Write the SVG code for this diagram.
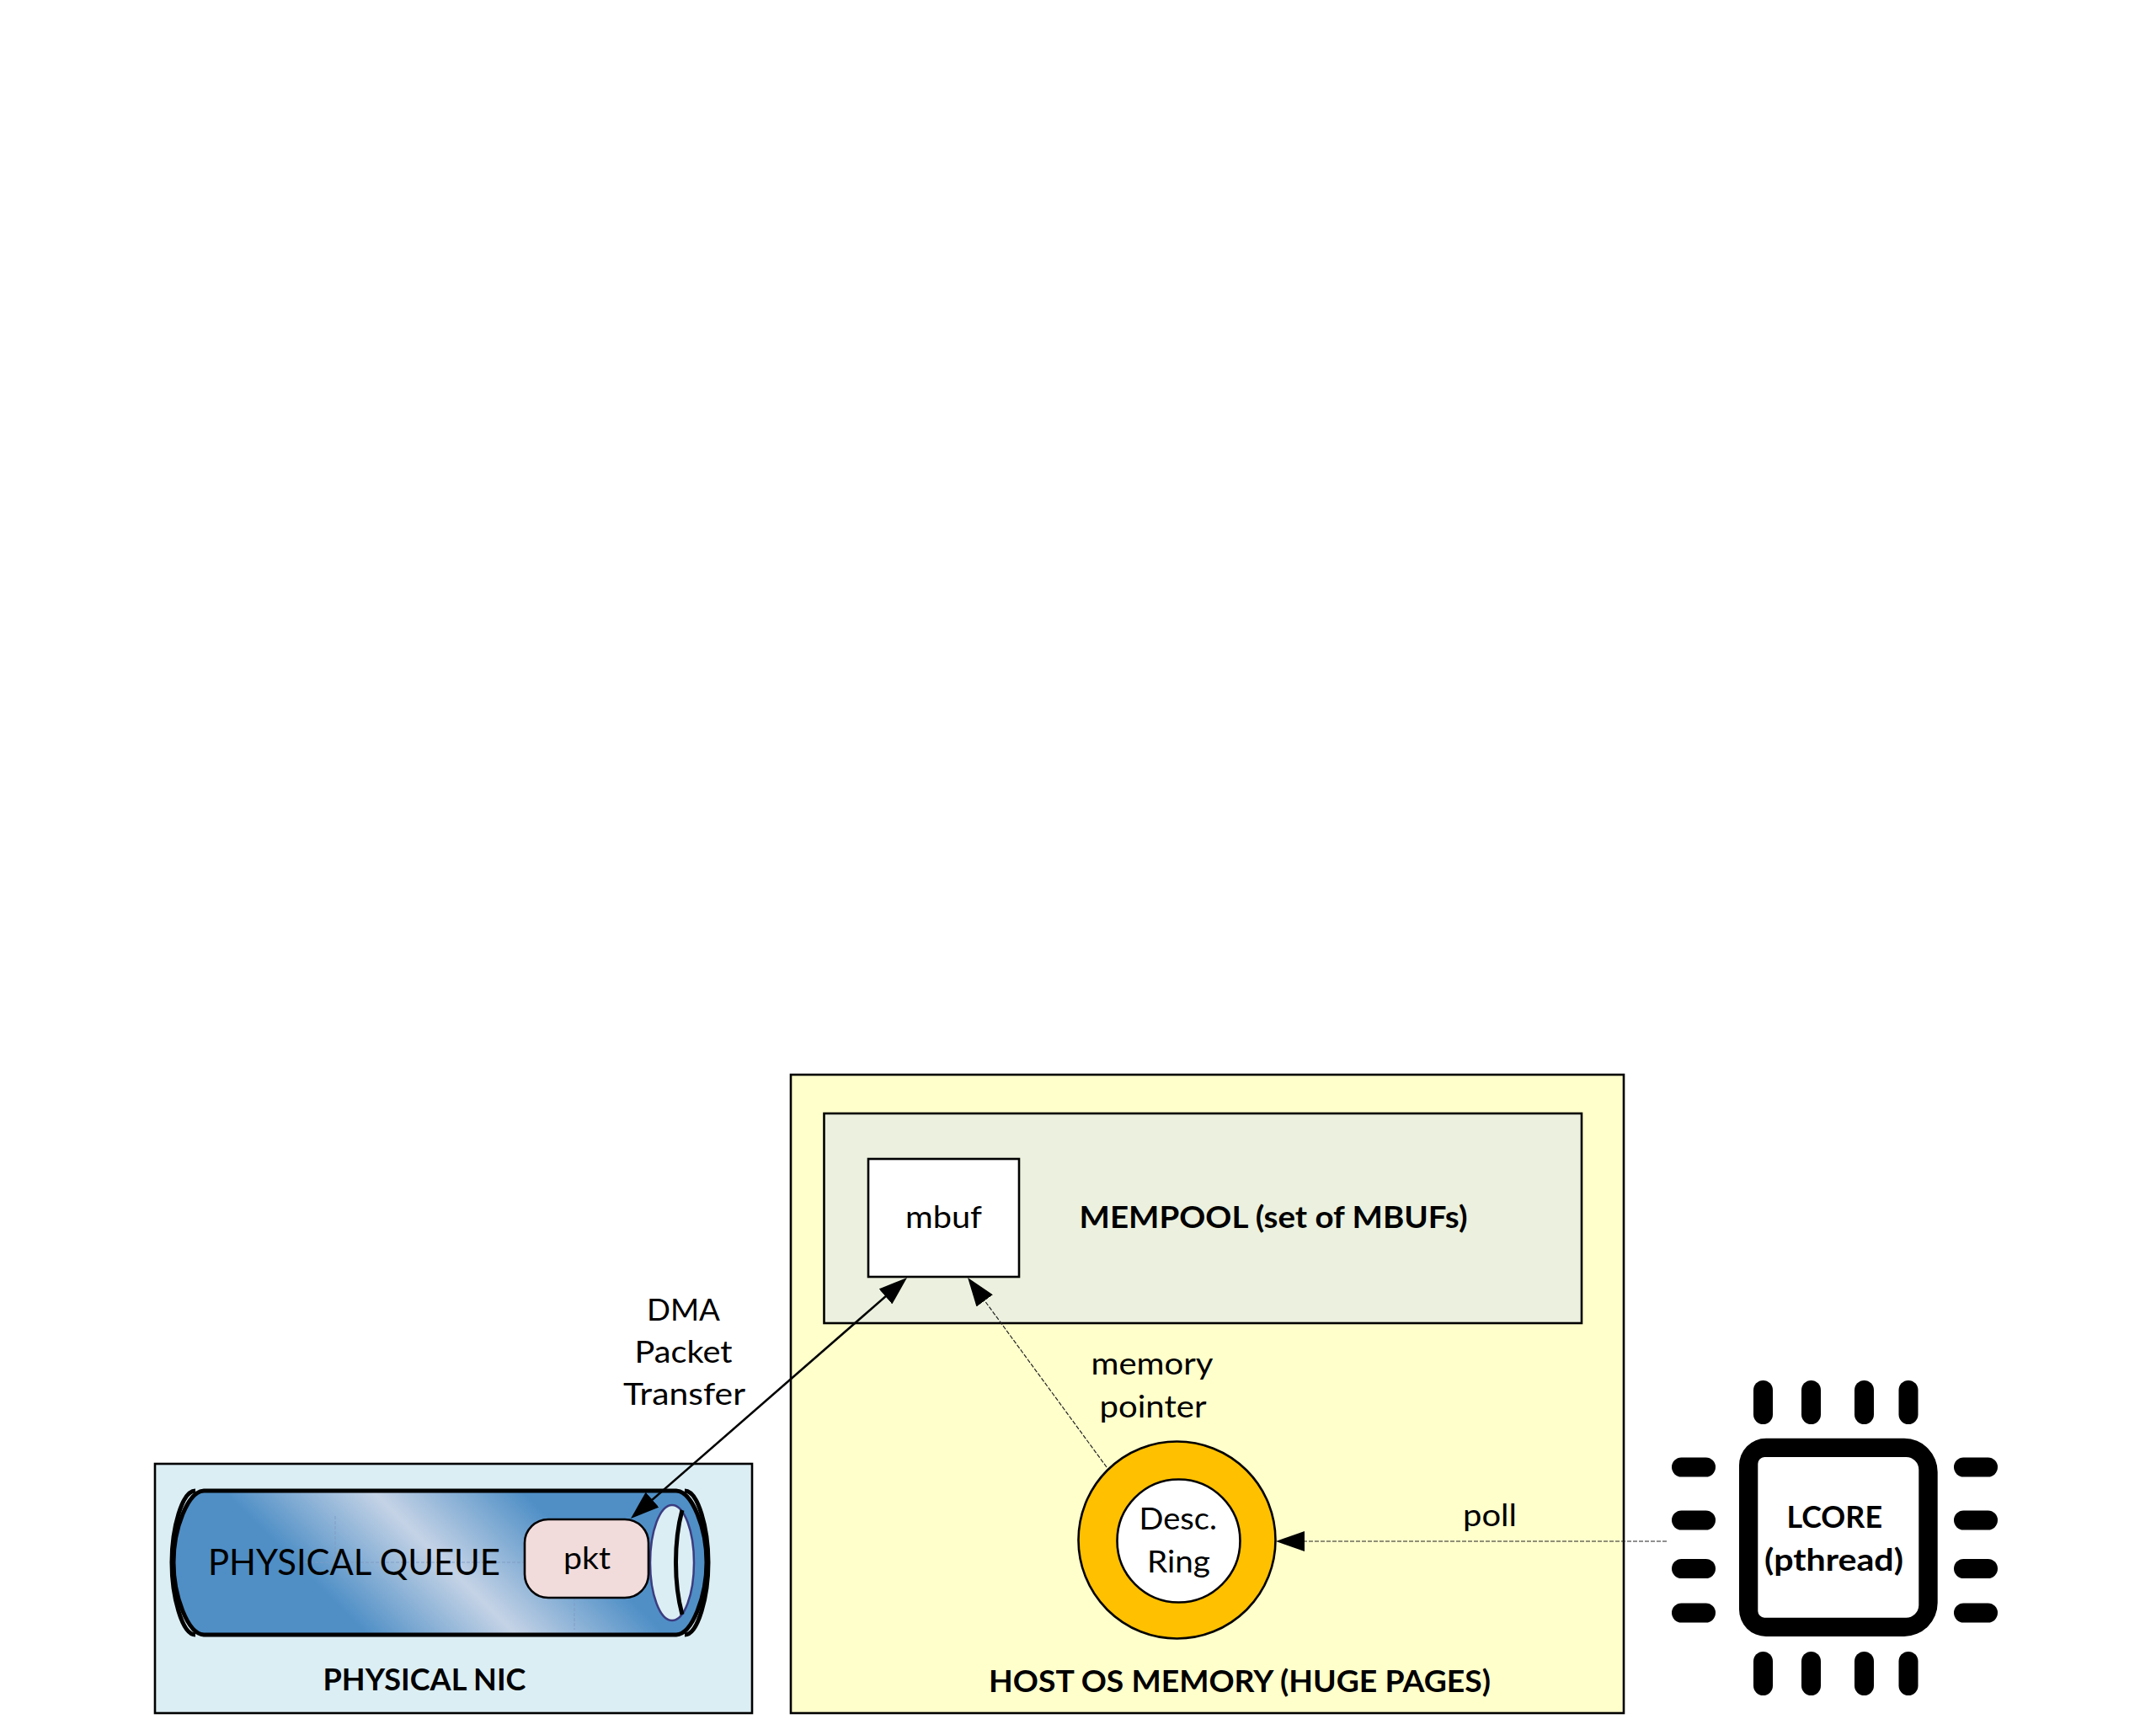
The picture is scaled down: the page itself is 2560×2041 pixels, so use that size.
<svg xmlns="http://www.w3.org/2000/svg" width="2560" height="2041" viewBox="0 0 2560 2041">
<style>
text{font-family:"Lato","Open Sans","Liberation Sans",sans-serif;fill:#000;text-anchor:start}
.r{font-size:37px}
.b{font-size:37px;font-weight:700}
.box{stroke:#000;stroke-width:2.6}
.tube{fill:none;stroke:#000;stroke-width:5}
.faint{fill:none;stroke:#7f9cc4;stroke-width:2;stroke-dasharray:4 2;opacity:.45}
.solid{fill:none;stroke:#000;stroke-width:2.5;marker-start:url(#head);marker-end:url(#head)}
.dash{fill:none;stroke:#222;stroke-width:1.2;stroke-dasharray:5 2;marker-end:url(#head)}
</style>
<defs>
<marker id="head" markerUnits="userSpaceOnUse" markerWidth="34" markerHeight="24" refX="24" refY="12" orient="auto-start-reverse"><path d="M0,0L34,12L0,24Z" fill="#000"/></marker>
<linearGradient id="tubeFill" gradientUnits="userSpaceOnUse" x1="267" y1="1772" x2="444.5" y2="1594.5"><stop offset="0" stop-color="#4f8fc6"/><stop offset=".5" stop-color="#c5d3e6"/><stop offset="1" stop-color="#4f8fc6"/></linearGradient>
</defs>
<rect width="2560" height="2041" fill="#fff"/>
<g id="nic">
<rect class="box" x="184" y="1738" width="709" height="296" fill="#dbeef4"/>
<text class="b" x="383.500" y="2007" textLength="241" lengthAdjust="spacingAndGlyphs">PHYSICAL NIC</text>
</g>
<g id="queue">
<path class="tube" d="M232 1770C216 1770 204 1815 204 1855C204 1895 216 1941 232 1941M813 1770C829 1770 841 1815 841 1855C841 1895 829 1941 813 1941"/>
<path d="M242 1770L803 1770C822 1771 839 1815 839 1855C839 1895 822 1940 803 1941L242 1941C223 1940 206 1895 206 1855C206 1815 223 1771 242 1770Z" fill="url(#tubeFill)" stroke="#000" stroke-width="5"/>
<path class="faint" d="M398 1800V1855M362 1855H623M682 1897V1935"/>
<text x="247" y="1869.500" font-size="43" textLength="347" lengthAdjust="spacingAndGlyphs">PHYSICAL QUEUE</text>
<ellipse cx="798" cy="1855.500" rx="26" ry="68.500" fill="#dbeef4" stroke="#3c3c80" stroke-width="2.500"/>
<path d="M810 1793C800 1830 800 1880 810 1917" fill="none" stroke="#000" stroke-width="5"/>
</g>
<g id="pkt">
<rect class="box" x="623" y="1804" width="147" height="93" rx="28" fill="#f2dcdb"/>
<text class="r" x="669" y="1863" textLength="56" lengthAdjust="spacingAndGlyphs">pkt</text>
</g>
<g id="host">
<rect class="box" x="939" y="1276" width="989" height="758" fill="#ffffcc"/>
<text class="b" x="1174" y="2008.500" textLength="596" lengthAdjust="spacingAndGlyphs">HOST OS MEMORY (HUGE PAGES)</text>
</g>
<g id="mempool">
<rect class="box" x="978.500" y="1322" width="899.500" height="249" fill="#ebf1de"/>
<text class="b" x="1281.500" y="1458" textLength="461" lengthAdjust="spacingAndGlyphs">MEMPOOL (set of MBUFs)</text>
</g>
<g id="mbuf">
<rect class="box" x="1031" y="1376" width="179" height="140" fill="#fff"/>
<text class="r" x="1075" y="1458" textLength="91" lengthAdjust="spacingAndGlyphs">mbuf</text>
</g>
<g id="ring">
<circle class="box" cx="1397.500" cy="1828.500" r="117" fill="#ffc000"/>
<circle class="box" cx="1399.500" cy="1829.500" r="73" fill="#fff"/>
<text class="r" x="1352.500" y="1816" textLength="92.500" lengthAdjust="spacingAndGlyphs">Desc.</text>
<text class="r" x="1362" y="1867" textLength="75" lengthAdjust="spacingAndGlyphs">Ring</text>
</g>
<g id="lcore">
<path fill-rule="evenodd" fill="#000" d="M2097 1707.700H2261A40 40 0 0 1 2300.700 1748V1903A40 40 0 0 1 2261 1943H2097A32 32 0 0 1 2065 1911V1740A32 32 0 0 1 2097 1707.700ZM2095 1730A8 8 0 0 0 2087.300 1738V1913A8 8 0 0 0 2095 1920.700H2263A15 15 0 0 0 2278.300 1906V1745A15 15 0 0 0 2263 1730Z"/>
<g fill="#000">
<rect x="2082" y="1639" width="23" height="52" rx="11.500"/><rect x="2139" y="1639" width="23" height="52" rx="11.500"/><rect x="2202" y="1639" width="23" height="52" rx="11.500"/><rect x="2254.500" y="1639" width="23" height="52" rx="11.500"/>
<rect x="2082" y="1961" width="23" height="52" rx="11.500"/><rect x="2139" y="1961" width="23" height="52" rx="11.500"/><rect x="2202" y="1961" width="23" height="52" rx="11.500"/><rect x="2254.500" y="1961" width="23" height="52" rx="11.500"/>
<rect x="1985" y="1730.500" width="52" height="23" rx="11.500"/><rect x="1985" y="1793.500" width="52" height="23" rx="11.500"/><rect x="1985" y="1851" width="52" height="23" rx="11.500"/><rect x="1985" y="1903.500" width="52" height="23" rx="11.500"/>
<rect x="2320" y="1730.500" width="52" height="23" rx="11.500"/><rect x="2320" y="1793.500" width="52" height="23" rx="11.500"/><rect x="2320" y="1851" width="52" height="23" rx="11.500"/><rect x="2320" y="1903.500" width="52" height="23" rx="11.500"/>
</g>
<text class="b" x="2121.500" y="1814" textLength="113.500" lengthAdjust="spacingAndGlyphs">LCORE</text>
<text class="b" x="2095" y="1865" textLength="165" lengthAdjust="spacingAndGlyphs">(pthread)</text>
</g>
<g id="connectors">
<path class="solid" d="M756.500 1796.400L1069.500 1523.600"/>
<path class="dash" d="M1314 1742L1155 1525"/>
<path class="dash" d="M1979 1830H1525"/>
<text class="r" x="1295.500" y="1632" textLength="145" lengthAdjust="spacingAndGlyphs">memory</text>
<text class="r" x="1305.500" y="1683" textLength="127" lengthAdjust="spacingAndGlyphs">pointer</text>
<text class="r" x="1737" y="1812" textLength="64" lengthAdjust="spacingAndGlyphs">poll</text>
<text class="r" x="768" y="1567.500" textLength="87" lengthAdjust="spacingAndGlyphs">DMA</text>
<text class="r" x="753.500" y="1617.500" textLength="116" lengthAdjust="spacingAndGlyphs">Packet</text>
<text class="r" x="740" y="1668" textLength="145" lengthAdjust="spacingAndGlyphs">Transfer</text>
</g>
</svg>
